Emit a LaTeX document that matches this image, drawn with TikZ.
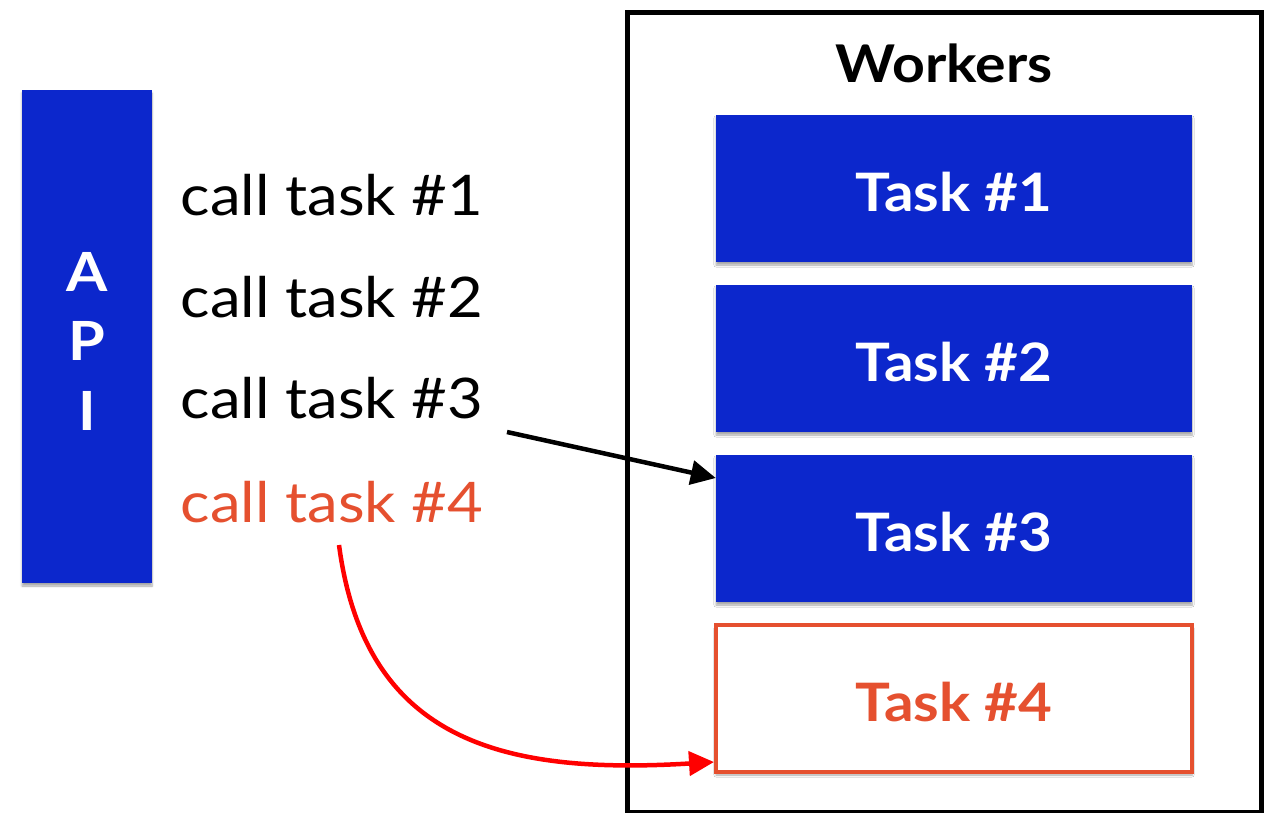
\documentclass[tikz,border=0pt]{standalone}
\usepackage{fontspec}
\setmainfont{Lato}[FakeStretch=1.1]
\usetikzlibrary{shadows.blur,arrows.meta}
\definecolor{apiblue}{HTML}{0C27CC}
\definecolor{warnred}{HTML}{E5502F}
\tikzset{
  bluebox/.style={rectangle, fill=apiblue, draw=none, text=white, inner sep=0pt,
    blur shadow={shadow xshift=0pt, shadow yshift=-3pt, shadow blur steps=6, shadow opacity=35}},
  taskbox/.style={bluebox, minimum width=476pt, minimum height=147pt},
  tasklabel/.style={inner sep=0pt, font=\fontsize{53}{62}\selectfont\bfseries},
  callnote/.style={font=\fontsize{56}{66}\selectfont, inner sep=0pt},
  apiletter/.style={text=white, font=\fontsize{54}{60}\selectfont\bfseries, inner sep=0pt},
  link/.style={line width=4.5pt, -{Triangle[length=25pt,width=24pt]}}
}
\begin{document}
\begin{tikzpicture}[x=1pt,y=-1pt]
\useasboundingbox (0,0) rectangle (1277,812);
% API column
\node[bluebox, minimum width=130pt, minimum height=493pt] (api) at (87,336.5) {};
\node[apiletter] (apiA) at (87,272) {A};
\node[apiletter] (apiP) at (87,341) {P};
\node[apiletter] (apiI) at (87,411) {I};
% workers frame
\node[draw=black, line width=5pt, minimum width=634pt, minimum height=800pt, inner sep=0pt,
  blur shadow={shadow xshift=0pt, shadow yshift=-2pt, shadow blur steps=4, shadow opacity=25}, fill=white]
  (workers) at (944,412) {};
\node[font=\fontsize{52}{60}\selectfont\bfseries, inner sep=0pt] (title) at (944,63) {Workers};
% tasks
\node[taskbox] (t1) at (954,188.5) {};
\node[taskbox] (t2) at (954,358.5) {};
\node[taskbox] (t3) at (954,528.5) {};
\node[taskbox, fill=white, draw=warnred, line width=4pt] (t4) at (954,698.5) {};
\node[tasklabel, text=white] (l1) at ([yshift=-4pt]t1.center) {Task \#1};
\node[tasklabel, text=white] (l2) at ([yshift=-4pt]t2.center) {Task \#2};
\node[tasklabel, text=white] (l3) at ([yshift=-4pt]t3.center) {Task \#3};
\node[tasklabel, text=warnred] (l4) at ([yshift=-4pt]t4.center) {Task \#4};
% calls
\node[callnote] (c1) at (332,195) {call task \#1};
\node[callnote] (c2) at (332,297) {call task \#2};
\node[callnote] (c3) at (332,398) {call task \#3};
\node[callnote, text=warnred] (c4) at (332,502) {call task \#4};
\coordinate (c3out) at (507,432);
\coordinate (c4out) at (339,545);
\draw[link] (c3out) -- (t3.north west |- 0,478);
\draw[link, red] (c4out) .. controls (365,740) and (500,775) .. (t4.west |- 0,762);
\end{tikzpicture}
\end{document}
